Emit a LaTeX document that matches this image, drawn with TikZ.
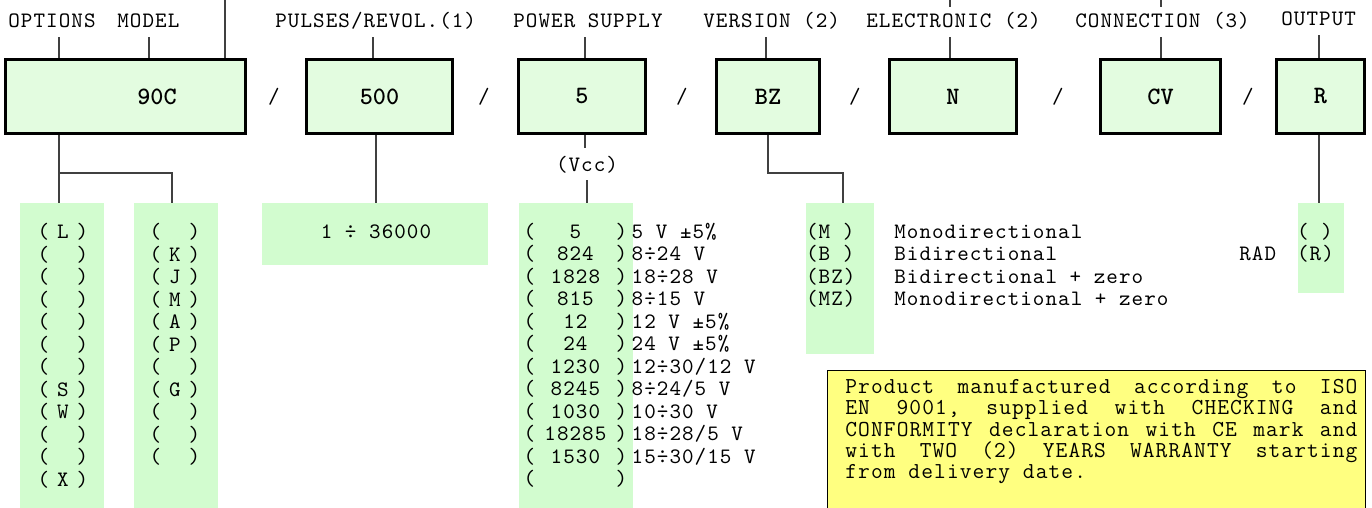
\documentclass[tikz,border=0pt]{standalone}
\usepackage{fontspec}
\newfontfamily\cour{Latin Modern Mono}[LetterSpace=4.8]
\newfontfamily\courbf{lmmonolt10-bold.otf}
\definecolor{boxfill}{HTML}{E3FCE0}
\definecolor{listfill}{HTML}{D2FCCF}
\definecolor{notefill}{HTML}{FFFF80}
\definecolor{linegray}{HTML}{404040}
\newcommand\optrow[1]{\makebox[9.75pt]{(}\makebox[9.75pt]{#1}\makebox[9.75pt]{)}}
\newcommand\pwrow[2]{\makebox[6.3pt]{(}\makebox[39.7pt]{#1}\makebox[6.3pt]{)}\hspace{2pt}#2}
\newcommand\verrow[2]{\makebox[44.1pt][l]{#1}#2}
\begin{document}
\begin{tikzpicture}[x=0.5pt,y=-0.5pt,
  mainbox/.style={draw=black, line width=1.6pt, fill=boxfill, inner sep=0pt,
     minimum height=37pt, font=\courbf\fontsize{12.5}{14}\selectfont},
  boxtext/.style={font=\courbf\fontsize{12.5}{14}\selectfont, inner sep=0pt},
  slash/.style={font=\cour\fontsize{11}{12}\selectfont, inner sep=0pt},
  toplbl/.style={font=\cour\fontsize{11}{12}\selectfont, inner xsep=0pt, inner ysep=4.5pt,
     text height=6pt, text depth=0pt, anchor=base west},
  conn/.style={draw=linegray, line width=0.55pt},
  listbg/.style={fill=listfill, draw=none, inner sep=0pt, anchor=north west},
  listtxt/.style={font=\cour\fontsize{11}{11.25}\selectfont, inner sep=0pt, anchor=base west},
  note/.style={fill=notefill, draw=black, line width=0.6pt, inner sep=0pt, anchor=north west},
]
\useasboundingbox (0,0) rectangle (1372,508);

% x positions of connectors
\coordinate (x59) at (59,0);
\coordinate (x149) at (149,0);
\coordinate (x172) at (172,0);
\coordinate (x225) at (225,0);
\coordinate (x373) at (373,0);
\coordinate (x376) at (376,0);
\coordinate (x585) at (585,0);
\coordinate (x587) at (587,0);
\coordinate (x766) at (766,0);
\coordinate (x768) at (768,0);
\coordinate (x843) at (843,0);
\coordinate (x950) at (950,0);
\coordinate (x1161) at (1161,0);
\coordinate (x1319) at (1319,0);

% top labels
\node[toplbl] (optlbl) at (8,28) {OPTIONS};
\node[toplbl] (modlbl) at (117,28) {MODEL};
\node[toplbl] (pullbl) at (275,28) {PULSES/REVOL.(1)};
\node[toplbl] (powlbl) at (513,28) {POWER SUPPLY};
\node[toplbl] (verlbl) at (703,28) {VERSION (2)};
\node[toplbl] (elelbl) at (866,28) {ELECTRONIC (2)};
\node[toplbl] (conlbl) at (1075,28) {CONNECTION (3)};
\node[toplbl] (outlbl) at (1281,26) {OUTPUT};

% main boxes
\node[mainbox, minimum width=120pt] (box1) at (125.5,96.5) {};
\node[boxtext] (t1) at (157,96.5) {90C};
\node[mainbox, minimum width=73pt] (box2) at (379.5,96.5) {500};
\node[mainbox, minimum width=63.5pt] (box3) at (582,96.5) {5};
\node[mainbox, minimum width=51.5pt] (box4) at (768,96.5) {BZ};
\node[mainbox, minimum width=63.5pt] (box5) at (953,96.5) {N};
\node[mainbox, minimum width=60pt] (box6) at (1160.5,96.5) {CV};
\node[mainbox, minimum width=44pt] (box7) at (1320.5,96.5) {R};

% slashes
\node[slash] (s1) at (274,96.5) {/};
\node[slash] (s2) at (484,96.5) {/};
\node[slash] (s3) at (682,96.5) {/};
\node[slash] (s4) at (855,96.5) {/};
\node[slash] (s5) at (1058,96.5) {/};
\node[slash] (s6) at (1248,96.5) {/};

% connectors above boxes
\draw[conn] (optlbl.south -| x59) -- (box1.north -| x59);
\draw[conn] (modlbl.south -| x149) -- (box1.north -| x149);
\draw[conn] (x225) -- (box1.north -| x225);
\draw[conn] (pullbl.south -| x373) -- (box2.north -| x373);
\draw[conn] (powlbl.south -| x585) -- (box3.north -| x585);
\draw[conn] (verlbl.south -| x766) -- (box4.north -| x766);
\draw[conn] (x950) -- (elelbl.north -| x950);
\draw[conn] (elelbl.south -| x950) -- (box5.north -| x950);
\draw[conn] (x1161) -- (conlbl.north -| x1161);
\draw[conn] (conlbl.south -| x1161) -- (box6.north -| x1161);
\draw[conn] (outlbl.south -| x1319) -- (box7.north -| x1319);

% list backgrounds
\node[listbg, minimum width=42pt, minimum height=153pt] (l1bg) at (20,203) {};
\node[listbg, minimum width=42pt, minimum height=153pt] (l2bg) at (134,203) {};
\node[listbg, minimum width=113pt, minimum height=31pt] (pulbg) at (262,203) {};
\node[listbg, minimum width=57pt, minimum height=153pt] (powbg) at (519,203) {};
\node[listbg, minimum width=34pt, minimum height=75.5pt] (verbg) at (806,203) {};
\node[listbg, minimum width=23pt, minimum height=45pt] (outbg) at (1298,203) {};

% connectors below boxes
\coordinate (br1) at (59,173);
\coordinate (br4) at (768,173);
\draw[conn] (box1.south -| x59) -- (l1bg.north -| x59);
\draw[conn] (br1) -| (l2bg.north -| x172);
\draw[conn] (box2.south -| x376) -- (pulbg.north -| x376);
\node[font=\cour\fontsize{11}{12}\selectfont, inner xsep=0pt, inner ysep=4.5pt,
      text height=7pt, text depth=0pt, anchor=base] (vcc) at (587,171) {(Vcc)};
\draw[conn] (box3.south -| x585) -- (vcc.north -| x585);
\draw[conn] (vcc.south -| x587) -- (powbg.north -| x587);
\draw[conn] (box4.south -| x768) -- (br4) -| (verbg.north -| x843);
\draw[conn] (box7.south -| x1319) -- (outbg.north -| x1319);

% list texts
\node[listtxt] (l1txt) at (33.25,239) {\parbox[t]{40pt}{\raggedright
  \optrow{L}\\\optrow{}\\\optrow{}\\\optrow{}\\\optrow{}\\\optrow{}\\\optrow{}\\
  \optrow{S}\\\optrow{W}\\\optrow{}\\\optrow{}\\\optrow{X}}};
\node[listtxt] (l2txt) at (145.25,239) {\parbox[t]{40pt}{\raggedright
  \optrow{}\\\optrow{K}\\\optrow{J}\\\optrow{M}\\\optrow{A}\\\optrow{P}\\\optrow{}\\
  \optrow{G}\\\optrow{}\\\optrow{}\\\optrow{}}};
\node[font=\cour\fontsize{11}{12}\selectfont, inner sep=0pt, anchor=base] (pultxt) at (376,238.5) {1 ÷ 36000};
\node[listtxt] (powtxt) at (522.7,238.5) {\parbox[t]{140pt}{\raggedright
  \pwrow{5}{5 V ±5\%}\\
  \pwrow{824}{8÷24 V}\\
  \pwrow{1828}{18÷28 V}\\
  \pwrow{815}{8÷15 V}\\
  \pwrow{12}{12 V ±5\%}\\
  \pwrow{24}{24 V ±5\%}\\
  \pwrow{1230}{12÷30/12 V}\\
  \pwrow{8245}{8÷24/5 V}\\
  \pwrow{1030}{10÷30 V}\\
  \pwrow{18285}{18÷28/5 V}\\
  \pwrow{1530}{15÷30/15 V}\\
  \pwrow{}{}}};
\node[listtxt] (vertxt) at (805.7,238.5) {\parbox[t]{200pt}{\raggedright
  \verrow{(M )}{Monodirectional}\\
  \verrow{(B )}{Bidirectional}\\
  \verrow{(BZ)}{Bidirectional + zero}\\
  \verrow{(MZ)}{Monodirectional + zero}}};
\node[listtxt] (radtxt) at (1239,261) {RAD};
\node[listtxt] (outtxt) at (1296.7,238.5) {\parbox[t]{30pt}{\raggedright
  ( )\\(R)}};

% note
\node[note, minimum width=269pt, minimum height=75pt] (notebox) at (827,370) {};
\node[font=\cour\fontsize{11.4}{10.75}\selectfont, inner sep=0pt, anchor=base west] (notetxt) at (845,393)
 {\parbox[t]{256pt}{\raggedright
  Product\hfill manufactured\hfill according\hfill to\hfill ISO\\
  EN\hfill 9001,\hfill supplied\hfill with\hfill CHECKING\hfill and\\
  CONFORMITY\hfill declaration\hfill with\hfill CE\hfill mark\hfill and\\
  with\hfill TWO\hfill (2)\hfill YEARS\hfill WARRANTY\hfill starting\\
  from delivery date.}};
\end{tikzpicture}
\end{document}
